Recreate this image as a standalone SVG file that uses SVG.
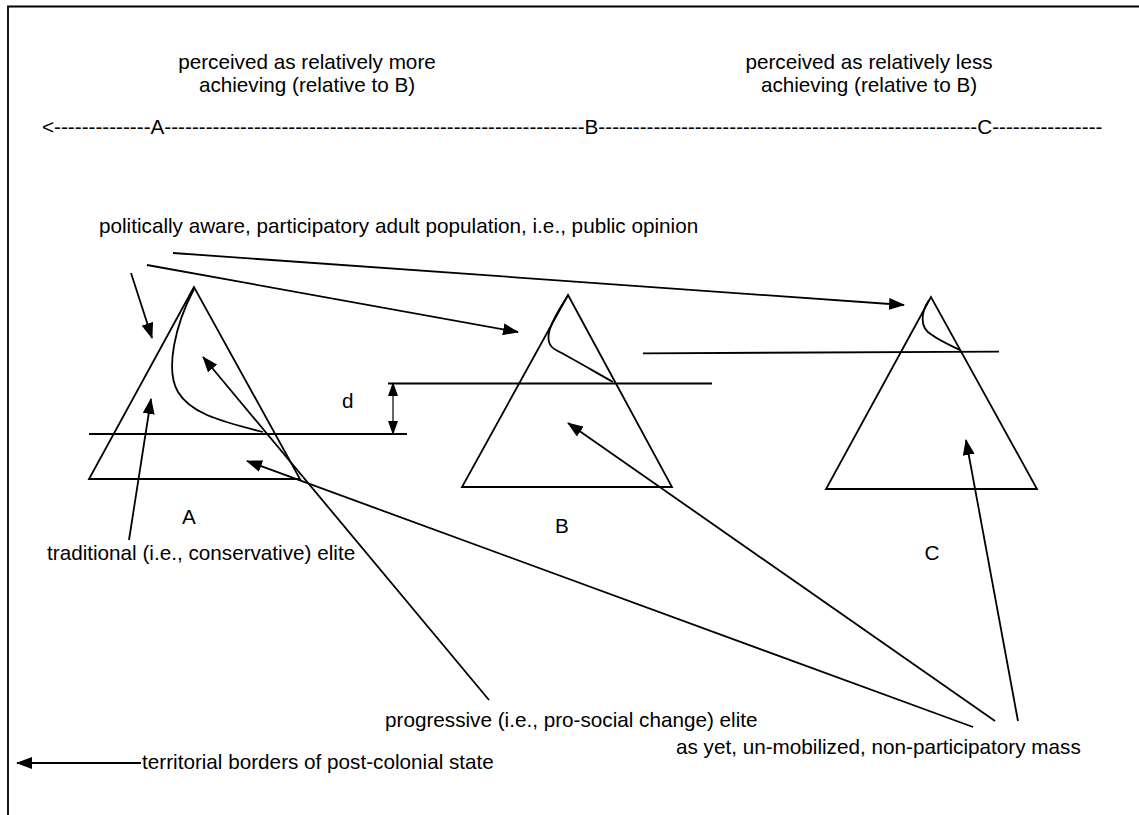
<svg xmlns="http://www.w3.org/2000/svg" width="1139" height="815" viewBox="0 0 1139 815">
<style>
text{font-family:"Liberation Sans",Arial,sans-serif;font-size:20.7px;fill:#000}
.s{fill:none;stroke:#000;stroke-width:1.8}
.c{fill:none;stroke:#000;stroke-width:1.8;marker-end:url(#ah)}
.d{fill:none;stroke:#000;stroke-width:1.2;marker-start:url(#ah2);marker-end:url(#ah2)}
</style>
<defs>
<marker id="ah" markerUnits="userSpaceOnUse" markerWidth="16" markerHeight="12" viewBox="0 0 16 12" refX="15" refY="6" orient="auto">
<path d="M0,0 L16,6 L0,12 z" fill="#000"/>
</marker>
<marker id="ah2" markerUnits="userSpaceOnUse" markerWidth="14" markerHeight="10" viewBox="0 0 14 10" refX="13" refY="5" orient="auto-start-reverse">
<path d="M0,0 L14,5 L0,10 z" fill="#000"/>
</marker>
</defs>
<rect width="1139" height="815" fill="#fff"/>
<g id="frame">
<path class="s" d="M8,815 V6.5 H1139" stroke-width="2"/>
</g>
<g id="header-left">
<text x="307" y="69" text-anchor="middle">perceived as relatively more</text>
<text x="307" y="92" text-anchor="middle">achieving (relative to B)</text>
</g>
<g id="header-right">
<text x="869" y="69" text-anchor="middle">perceived as relatively less</text>
<text x="869" y="92" text-anchor="middle">achieving (relative to B)</text>
</g>
<g id="scale">
<text x="42" y="134">&lt;--------------A-------------------------------------------------------------B-------------------------------------------------------C----------------</text>
</g>
<g id="label-public">
<text x="99" y="233">politically aware, participatory adult population, i.e., public opinion</text>
</g>
<g id="triangle-A">
<path class="s" d="M194,287 L89,479 L300,479 Z"/>
<path class="s" d="M89,434 H407"/>
<path class="s" d="M194,289 C175,325 165,370 178,392 C190,412 215,420 263,432"/>
<text x="189" y="524" text-anchor="middle">A</text>
</g>
<g id="triangle-B">
<path class="s" d="M568,295 L462,487 L672,487 Z"/>
<path class="s" d="M388,383.5 H712"/>
<path class="s" d="M567,297 C552,320 540,342 556,350 C575,360 595,372 613,382"/>
<text x="562" y="533" text-anchor="middle">B</text>
</g>
<g id="triangle-C">
<path class="s" d="M931,297 L826,489 L1037,489 Z"/>
<path class="s" d="M643,353.3 L999,351.7"/>
<path class="s" d="M929,300 C921,312 919,328 932,335 C942,342 952,346 960,350"/>
<text x="932" y="560" text-anchor="middle">C</text>
</g>
<g id="dimension-d">
<path class="d" d="M393,383 V434"/>
<text x="342" y="408">d</text>
</g>
<g id="label-traditional">
<text x="47" y="560">traditional (i.e., conservative) elite</text>
</g>
<g id="label-progressive">
<text x="385" y="727">progressive (i.e., pro-social change) elite</text>
</g>
<g id="label-mass">
<text x="676" y="754">as yet, un-mobilized, non-participatory mass</text>
</g>
<g id="label-borders">
<text x="142" y="769">territorial borders of post-colonial state</text>
</g>
<g id="connectors">
<path class="c" d="M131,273 L152,338"/>
<path class="c" d="M147,265 L518,332"/>
<path class="c" d="M173,253 L904,305"/>
<path class="c" d="M129,540 L151,399"/>
<path class="c" d="M489,700 L203,357"/>
<path class="c" d="M973,727 L247,461"/>
<path class="c" d="M995,721 L568,423"/>
<path class="c" d="M1018,721 L966,440"/>
<path class="c" d="M141,763 L17,763"/>
</g>
</svg>
